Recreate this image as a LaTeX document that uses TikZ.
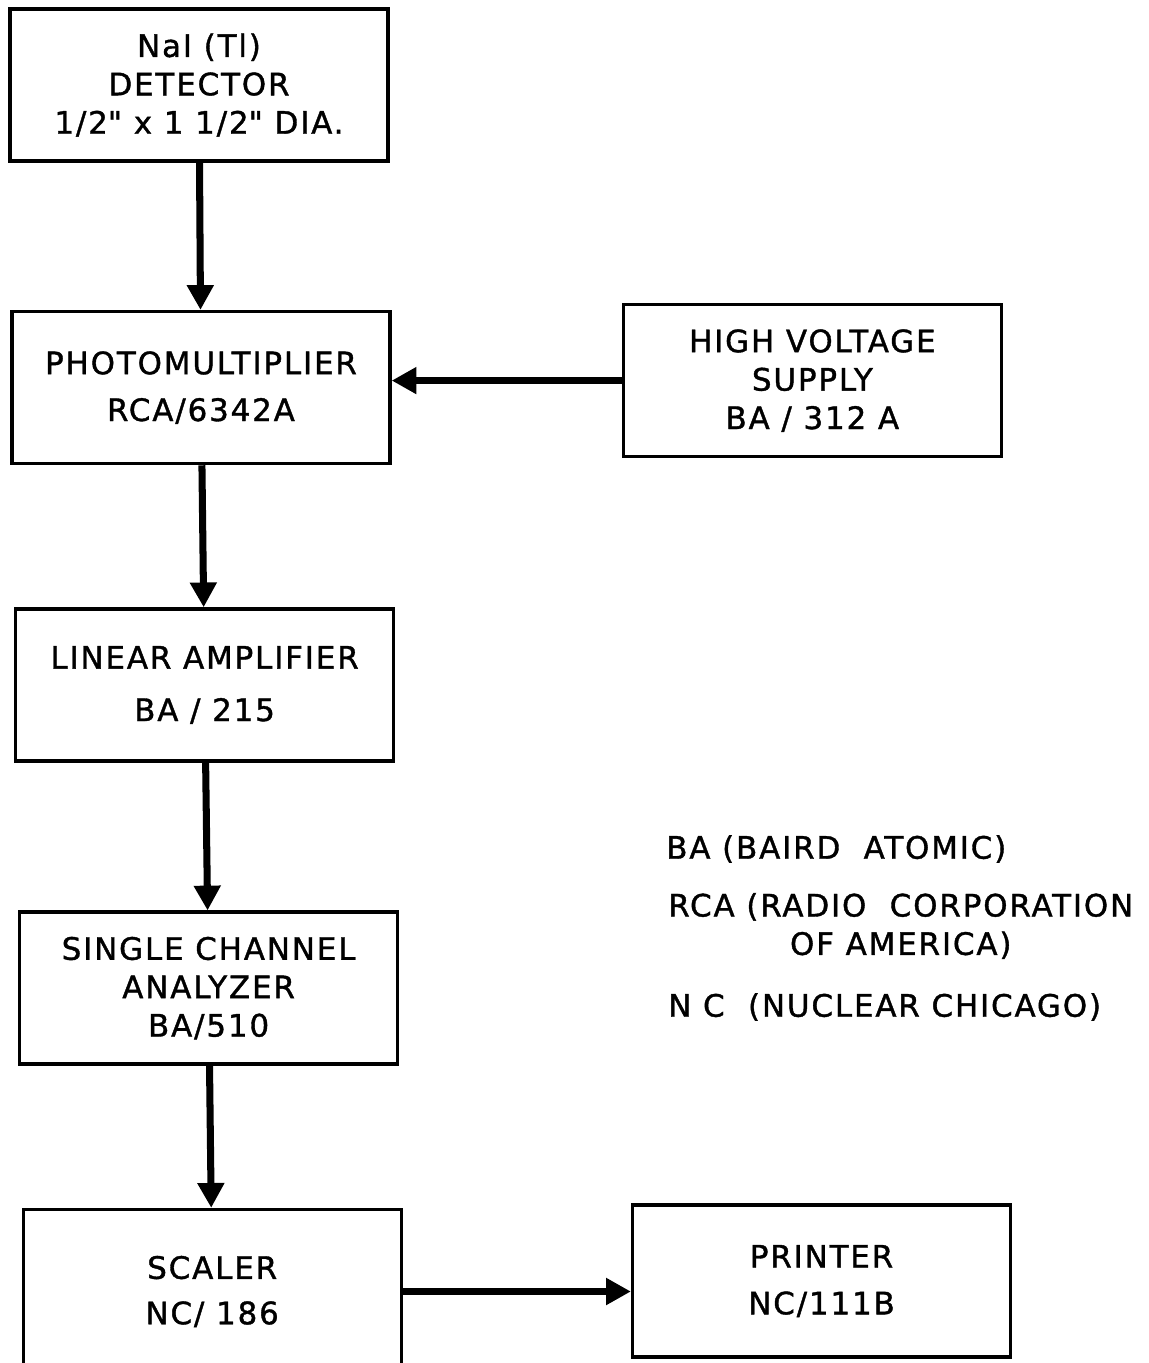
\documentclass[tikz,border=0pt]{standalone}
\usepackage{fontspec}
\setmainfont{DejaVu Sans}[LetterSpace=6, FakeBold=1.2]
\usetikzlibrary{positioning, arrows.meta}

\tikzset{
  unit/.style={draw, line width=2.4pt, minimum width=9.45cm, minimum height=3.8cm,
               align=center, inner sep=2pt},
  flow/.style={-{Triangle[length=0.62cm, width=0.64cm]}, line width=5pt},
  legend/.style={anchor=west, inner sep=0pt, align=center},
}

\begin{document}
\begin{tikzpicture}[font=\fontsize{22}{27.3}\selectfont]
  \useasboundingbox (0,0) rectangle (28.725,-34.075);

  % detector chain
  \node[unit] (det) at (4.975,-2.125)
    {NaI (Tl)\\DETECTOR\\1/2\textquotedbl{} x 1 1/2\textquotedbl{} DIA.};
  \node[unit, below=3.68cm of det, xshift=0.05cm] (pm)
    {PHOTOMULTIPLIER\\[6pt]RCA/6342A};
  \node[unit, right=5.75cm of pm, yshift=0.175cm] (hv)
    {HIGH VOLTAGE\\SUPPLY\\BA / 312 A};
  \node[unit, below=3.55cm of pm, xshift=0.09cm] (la)
    {LINEAR AMPLIFIER\\[10pt]BA / 215};
  \node[unit, below=3.695cm of la, xshift=0.1cm] (sca)
    {SINGLE CHANNEL\\ANALYZER\\BA/510};
  \node[unit, minimum height=4.1cm, below=3.55cm of sca, xshift=0.09cm] (scaler)
    {SCALER\\[5pt]NC/ 186};
  \node[unit, right=5.7cm of scaler, yshift=0.26cm] (printer)
    {PRINTER\\[6pt]NC/111B};

  % legend
  \node[legend] (ba) at (16.65,-21.225) {BA (BAIRD\ \ ATOMIC)};
  \node[legend] (rca) at (16.7,-23.15) {RCA (RADIO\ \ CORPORATION\\OF AMERICA)};
  \node[legend] (nc) at (16.7,-25.175) {N C\ \ (NUCLEAR CHICAGO)};

  \draw[flow] (det) -- (pm);
  \draw[flow] (hv) -- (hv -| pm.east);
  \draw[flow] (pm) -- (la);
  \draw[flow] (la) -- (sca);
  \draw[flow] (sca) -- (scaler);
  \draw[flow] (scaler) -- (scaler -| printer.west);
\end{tikzpicture}
\end{document}
